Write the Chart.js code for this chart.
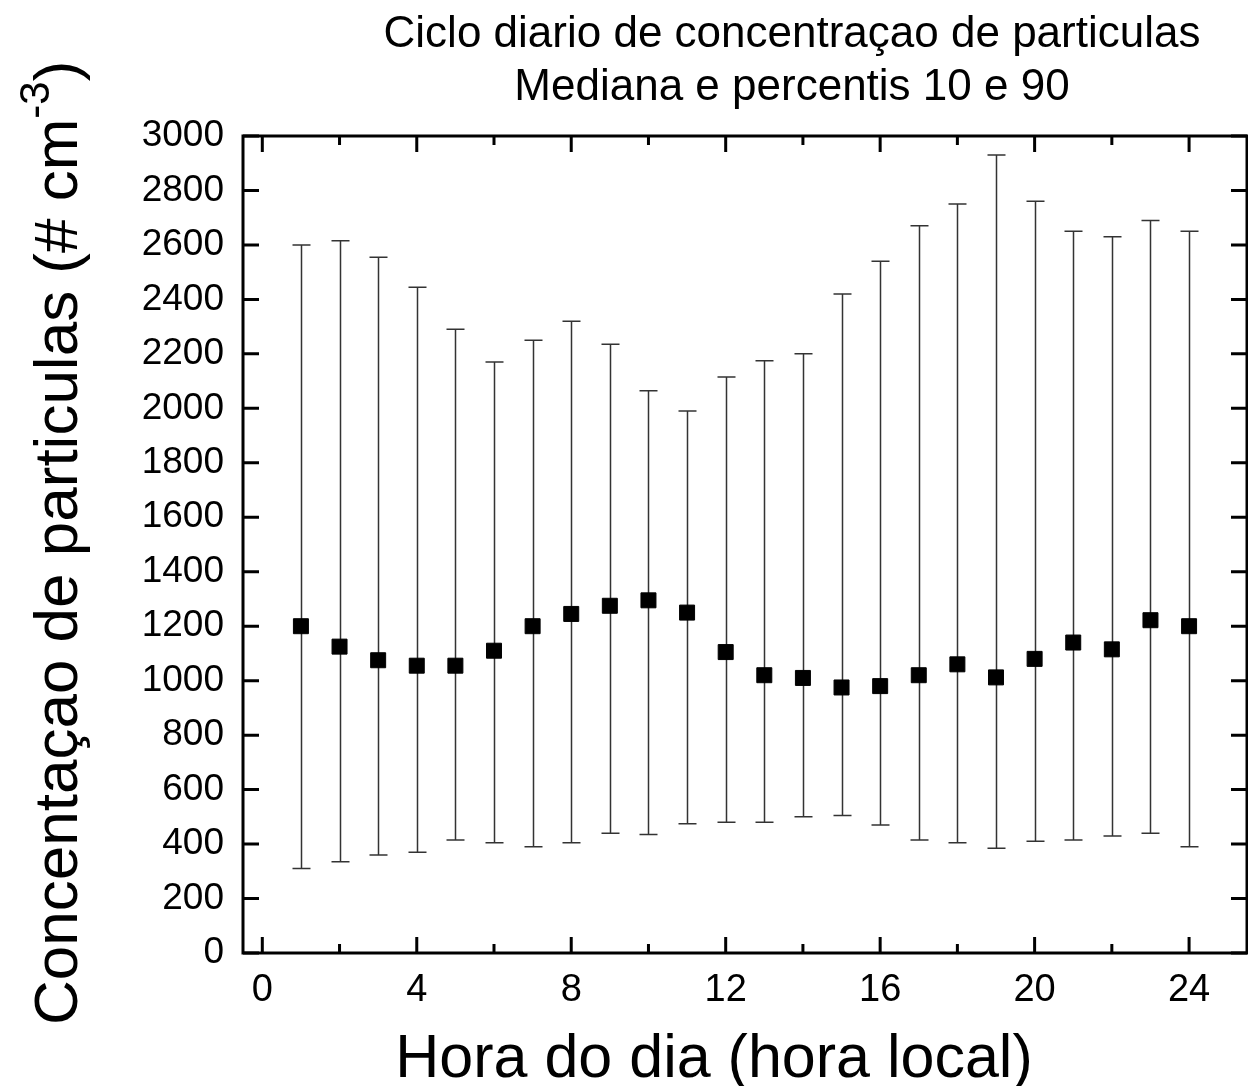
<!DOCTYPE html>
<html>
<head>
<meta charset="utf-8">
<script src="https://cdn.jsdelivr.net/npm/chart.js@4.4.1/dist/chart.umd.min.js"></script>
<style>
  html, body { margin: 0; padding: 0; background: #fff; }
  #box { width: 1248px; height: 1086px; }
</style>
</head>
<body>
<div id="box"><canvas id="myChart"></canvas></div>
<script>
// data: hourly median and 10 / 90 percentiles
const hours = [1,2,3,4,5,6,7,8,9,10,11,12,13,14,15,16,17,18,19,20,21,22,23,24]
const median = [1200,1125,1075,1055,1055,1110,1200,1245,1275,1295,1250,1105,1020,1010,975,980,1020,1060,1012,1080,1140,1115,1222,1200]
const p90 = [2600,2615,2555,2445,2290,2170,2250,2320,2235,2065,1990,2115,2175,2200,2420,2540,2670,2750,2930,2760,2650,2630,2690,2650]
const p10 = [310,335,360,370,415,405,390,405,440,435,475,480,480,500,505,470,415,405,385,410,415,430,440,390]

const xTicks = [0,2,4,6,8,10,12,14,16,18,20,22,24]
const xLabels = [0,4,8,12,16,20,24]
const yTicks = [0,200,400,600,800,1000,1200,1400,1600,1800,2000,2200,2400,2600,2800,3000]

const titleLines = ['Ciclo diario de concentraçao de particulas', 'Mediana e percentis 10 e 90']
const xTitle = 'Hora do dia (hora local)'
const yTitle = 'Concentaçao de particulas (# cm'
const yTitleSup = '-3'

const FONT = "'Liberation Sans', Arial, sans-serif"

var points = []
hours.forEach((h, i) => {
    points.push({x: h, y: median[i], lo: p10[i], hi: p90[i]})
})

// error bars behind the squares
const errorBars = {
    id: 'errorBars',
    beforeDatasetsDraw(chart) {
        const { ctx, scales: {x, y} } = chart
        ctx.save()
        ctx.strokeStyle = '#333'
        ctx.lineWidth = 1.5
        points.forEach(p => {
            const px = Math.round(x.getPixelForValue(p.x)) + 0.5
            const yl = y.getPixelForValue(p.lo)
            const yh = y.getPixelForValue(p.hi)
            ctx.beginPath()
            ctx.moveTo(px, yl); ctx.lineTo(px, yh)
            ctx.moveTo(px - 9, yl); ctx.lineTo(px + 9, yl)
            ctx.moveTo(px - 9, yh); ctx.lineTo(px + 9, yh)
            ctx.stroke()
        })
        ctx.restore()
    }
}

// frame, inward ticks and the titles
const frame = {
    id: 'frame',
    afterDraw(chart) {
        const { ctx, chartArea: {top, bottom, left, right}, scales: {x, y} } = chart
        ctx.save()
        ctx.strokeStyle = '#000'
        ctx.lineWidth = 3
        ctx.strokeRect(left, top, right - left, bottom - top)

        ctx.beginPath()
        xTicks.forEach(v => {
            const px = x.getPixelForValue(v)
            const len = (v % 4 === 0) ? 16 : 9
            ctx.moveTo(px, bottom); ctx.lineTo(px, bottom - len)
            ctx.moveTo(px, top); ctx.lineTo(px, top + len)
        })
        yTicks.forEach(v => {
            const py = y.getPixelForValue(v)
            ctx.moveTo(left, py); ctx.lineTo(left + 16, py)
            ctx.moveTo(right, py); ctx.lineTo(right - 16, py)
        })
        ctx.stroke()

        ctx.fillStyle = '#000'
        ctx.textAlign = 'center'
        ctx.textBaseline = 'alphabetic'
        ctx.font = '44px ' + FONT
        ctx.fillText(titleLines[0], 792, 47)
        ctx.fillText(titleLines[1], 792, 100)

        ctx.font = '61px ' + FONT
        ctx.fillText(xTitle, 714, 1077)

        // rotated y title with superscript
        ctx.translate(77, 1025)
        ctx.rotate(-Math.PI / 2)
        ctx.textAlign = 'left'
        ctx.font = '62px ' + FONT
        const w1 = ctx.measureText(yTitle).width
        ctx.fillText(yTitle, 0, 0)
        ctx.font = '42px ' + FONT
        const w2 = ctx.measureText(yTitleSup).width
        ctx.fillText(yTitleSup, w1, -28)
        ctx.font = '62px ' + FONT
        ctx.fillText(')', w1 + w2, 0)
        ctx.restore()
    }
}

const config = {
    type: 'scatter',
    data: {
        datasets: [{
            data: points,
            pointStyle: 'rect',
            pointRadius: 10.6,
            pointHoverRadius: 10.6,
            backgroundColor: '#000',
            borderColor: '#000',
            borderWidth: 1
        }]
    },
    options: {
        responsive: false,
        animation: false,
        events: [],
        layout: { autoPadding: false, padding: { top: 136, right: 1, left: 0, bottom: 0 } },
        plugins: {
            legend: { display: false },
            tooltip: { enabled: false },
            title: { display: false }
        },
        scales: {
            x: {
                type: 'linear',
                min: -0.5,
                max: 25.5,
                afterBuildTicks: (scale) => { scale.ticks = xTicks.map(v => ({value: v})) },
                afterFit: (scale) => {
                    scale.height = 133
                    scale.paddingLeft = 0
                    scale.paddingRight = 0
                },
                grid: { display: false, drawTicks: false },
                border: { display: false },
                ticks: {
                    padding: 15,
                    maxRotation: 0,
                    autoSkip: false,
                    color: '#000',
                    font: { family: FONT, size: 38 },
                    callback: (v) => xLabels.includes(v) ? String(v) : ''
                }
            },
            y: {
                min: 0,
                max: 3000,
                afterBuildTicks: (scale) => { scale.ticks = yTicks.map(v => ({value: v})) },
                afterFit: (scale) => {
                    scale.width = 243
                    scale.paddingTop = 0
                    scale.paddingBottom = 0
                },
                grid: { display: false, drawTicks: false },
                border: { display: false },
                ticks: {
                    padding: 19,
                    autoSkip: false,
                    color: '#000',
                    font: { family: FONT, size: 37 },
                    callback: (v) => String(v)
                }
            }
        }
    },
    plugins: [errorBars, frame]
}

const canvas = document.getElementById('myChart')
canvas.width = 1248
canvas.height = 1086
new Chart(canvas, config)
</script>
</body>
</html>
